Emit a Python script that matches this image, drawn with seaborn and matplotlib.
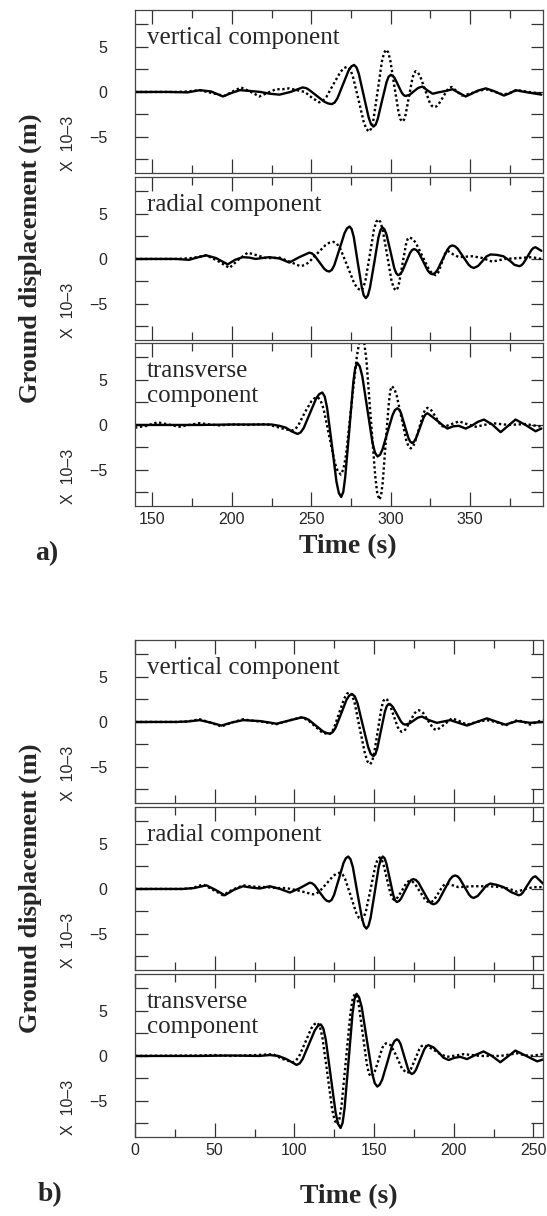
import matplotlib
matplotlib.use("Agg")
import matplotlib.pyplot as plt
import matplotlib.ticker as mticker
import pandas as pd
import seaborn as sns

# (time in s, ground displacement in units of 1e-3 m)

a_vertical_solid = [
    (139, 0), (160, 0), (172, -0.05), (180, 0.2), (187, 0.05), (194.3, -0.5), (200, -0.1), (205, 0.2),
    (212, 0.1), (218, 0), (224, -0.2), (230, -0.3), (237, 0), (244.5, 0.5), (246.8, 0.43), (248.7, 0.23),
    (253.5, -0.43), (258.2, -1.08), (260.7, -1.28), (263, -1.35), (264.75, -1.18), (266.5, -0.71), (270, 0.83),
    (273.5, 2.36), (275.25, 2.83), (277, 3.0), (278.5, 2.74), (280, 2.0), (283.1, -0.43), (286.2, -2.85),
    (287.7, -3.59), (289.2, -3.85), (290.6, -3.63), (291.9, -3.0), (294.6, -0.98), (297.4, 1.06), (298.7, 1.68),
    (300.1, 1.9), (301.3, 1.81), (302.5, 1.56), (304.8, 0.73), (307.1, -0.1), (308.3, -0.36), (309.5, -0.45),
    (312.1, -0.3), (314.7, 0.08), (317.4, 0.45), (320, 0.6), (323, 0.2), (326.5, -0.2), (330, -0.05),
    (334.5, 0.1), (339, 0.3), (343, -0.1), (347.3, -0.5), (351, -0.2), (355, 0.15), (360, 0.4), (365, 0.1),
    (371.4, -0.4), (375, -0.15), (378.8, 0.2), (383, 0.05), (388, -0.1), (395, -0.3)]

a_vertical_dotted = [
    (139, 0), (165, 0), (172, 0.05), (179.6, 0.2), (187, -0.1), (195.3, -0.45), (200.5, 0.05), (205.8, 0.5),
    (211.5, 0.05), (217.3, -0.5), (222.5, -0.1), (227.8, 0.3), (232, 0.3), (236, 0.4), (241, 0.2), (246, 0),
    (250.5, -0.65), (255, -1.15), (257.2, -1.0), (259.5, -0.57), (263.9, 0.83), (268.4, 2.22), (270.6, 2.65),
    (272.8, 2.8), (274.5, 2.53), (276.2, 1.75), (279.7, -0.8), (283.1, -3.35), (284.8, -4.13), (286.5, -4.4),
    (287.8, -4.05), (289.2, -3.07), (291.9, 0.15), (294.5, 3.37), (295.9, 4.35), (297.2, 4.7), (298.5, 4.4),
    (299.8, 3.53), (302.3, 0.7), (304.9, -2.13), (306.1, -3.0), (307.4, -3.3), (308.45, -3.09), (309.5, -2.48),
    (311.6, -0.5), (313.7, 1.48), (314.75, 2.09), (315.8, 2.3), (317.25, 2.15), (318.7, 1.71), (321.6, 0.3),
    (324.5, -1.11), (325.95, -1.55), (327.4, -1.7), (328.8, -1.61), (330.2, -1.37), (333, -0.58),
    (335.7, 0.22), (337.1, 0.46), (338.5, 0.55), (341.7, 0.08), (345, -0.4), (350, -0.2), (355, 0.1),
    (360, 0.3), (365, 0.05), (371, -0.3), (375, -0.1), (380, 0.2), (387, 0), (395, -0.2)]

a_radial_solid = [
    (139, 0), (165, 0), (173, -0.1), (178, 0.15), (183.8, 0.4), (190, 0.1), (197.4, -0.6), (202, -0.1),
    (206.8, 0.2), (211, 0.15), (215, 0.0), (219, 0.1), (223.6, 0.2), (230, 0.05), (236.2, -0.4), (242.5, 0.2),
    (248.8, 0.7), (250.4, 0.62), (252, 0.39), (255.1, -0.35), (258.2, -1.09), (259.8, -1.32), (261.4, -1.4),
    (263, -1.21), (264.6, -0.67), (267.8, 1.1), (271, 2.87), (272.6, 3.41), (274.2, 3.6), (275.5, 3.3),
    (276.8, 2.44), (279.3, -0.38), (281.9, -3.19), (283.1, -4.05), (284.4, -4.35), (285.7, -4.05), (287, -3.2),
    (289.7, -0.43), (292.3, 2.35), (293.6, 3.2), (294.9, 3.5), (296.1, 3.3), (297.4, 2.72), (299.9, 0.85),
    (302.3, -1.02), (303.6, -1.6), (304.8, -1.8), (306.05, -1.69), (307.3, -1.38), (309.8, -0.35),
    (312.3, 0.68), (313.55, 0.99), (314.8, 1.1), (316.2, 0.99), (317.7, 0.69), (320.6, -0.3), (323.4, -1.29),
    (324.9, -1.59), (326.3, -1.7), (327.9, -1.58), (329.5, -1.23), (332.6, -0.1), (335.8, 1.03), (337.3, 1.38),
    (338.9, 1.5), (340.6, 1.4), (342.3, 1.13), (345.7, 0.25), (349.1, -0.63), (350.8, -0.9), (352.5, -1.0),
    (355.1, -0.78), (357.8, -0.25), (360.4, 0.28), (363, 0.5), (367, 0.45), (371, 0.3), (375.5, -0.25),
    (378, -0.65), (381, -0.8), (382.3, -0.72), (383.6, -0.49), (386.2, 0.25), (388.7, 0.99), (390, 1.22),
    (391.3, 1.3), (395, 0.9)]

a_radial_dotted = [
    (139, 0), (165, 0), (175, 0.1), (184, 0.4), (191, -0.2), (198.5, -1.0), (204, -0.1), (210, 0.7),
    (216, 0.4), (221.5, 0.1), (226, 0.1), (230, 0.15), (236.5, -0.3), (243, -0.8), (245.6, -0.7),
    (248.3, -0.4), (253.5, 0.55), (258.8, 1.5), (261.4, 1.8), (264, 1.9), (266.2, 1.69), (268.4, 1.11),
    (272.8, -0.8), (277.1, -2.71), (279.3, -3.29), (281.5, -3.5), (282.8, -3.2), (284.2, -2.34), (286.9, 0.45),
    (289.5, 3.24), (290.9, 4.1), (292.2, 4.4), (293.6, 4.1), (295, 3.24), (297.8, 0.45), (300.5, -2.34),
    (301.9, -3.2), (303.3, -3.5), (304.35, -3.28), (305.4, -2.64), (307.5, -0.55), (309.6, 1.54),
    (310.65, 2.18), (311.7, 2.4), (313.8, 2.24), (315.9, 1.78), (320, 0.3), (324.2, -1.18), (326.3, -1.64),
    (328.4, -1.8), (329.35, -1.7), (330.3, -1.4), (332.2, -0.45), (334.1, 0.5), (335.05, 0.8), (336, 0.9),
    (339.5, 0.5), (343, 0.2), (347, 0.25), (351.5, 0.3), (358, 0.1), (364, -0.3), (372, 0), (381, 0.1),
    (389, 0.2), (395, 0)]

a_transverse_solid = [
    (139, 0), (180, 0), (200, 0.05), (225, 0.05), (230, -0.1), (234, -0.3), (237.5, -0.7), (241.4, -1.0),
    (243.35, -0.83), (245.3, -0.33), (249.2, 1.3), (253.1, 2.93), (255.05, 3.43), (257, 3.6), (258.5, 3.16),
    (260, 1.9), (263, -2.2), (265.9, -6.3), (267.4, -7.56), (268.9, -8.0), (270.2, -7.43), (271.4, -5.82),
    (274, -0.55), (276.5, 4.72), (277.7, 6.33), (279, 6.9), (280.6, 6.5), (282.2, 5.38), (285.4, 1.7),
    (288.6, -1.98), (290.2, -3.1), (291.8, -3.5), (293.4, -3.3), (294.9, -2.72), (298, -0.83), (301.2, 1.07),
    (302.7, 1.65), (304.3, 1.85), (305.45, 1.7), (306.6, 1.29), (308.9, -0.08), (311.2, -1.44),
    (312.35, -1.85), (313.5, -2.0), (314.7, -1.87), (315.9, -1.52), (318.4, -0.35), (320.8, 0.82),
    (322, 1.17), (323.2, 1.3), (326.3, 0.9), (329.5, 0.45), (332.6, 0.0), (335.8, -0.4), (339.5, -0.15),
    (343, -0.1), (347.3, -0.4), (351, -0.1), (355, 0.35), (358.8, 0.6), (364, 0.05), (369.3, -0.8),
    (374, -0.1), (378.7, 0.6), (385, 0.0), (391.3, -0.7), (395, -0.4)]

a_transverse_dotted = [
    (139, -0.3), (146, -0.1), (153.4, 0.3), (160, 0.05), (167, -0.2), (173, 0), (179.6, 0.2), (186, 0.05),
    (192, -0.05), (200, 0.05), (210, 0), (221.5, 0.1), (228, -0.2), (234, -0.5), (238, -0.6), (240, -0.46),
    (242, 0.0), (246, 1.4), (250, 2.6), (252, 2.96), (254, 3.1), (255.8, 2.77), (257.7, 1.84), (261.3, -1.2),
    (264.9, -4.24), (266.8, -5.17), (268.6, -5.5), (270.3, -4.92), (272, -3.26), (275.3, 2.15), (278.7, 7.56),
    (280.3, 9.22), (282, 9.8), (283.4, 9.11), (284.8, 7.15), (287.5, 0.75), (290.3, -5.65), (291.6, -7.61),
    (293, -8.3), (294, -7.82), (295, -6.45), (296.9, -2.0), (298.9, 2.45), (299.8, 3.82), (300.8, 4.3),
    (302.3, 4.04), (303.8, 3.29), (306.8, 0.85), (309.7, -1.59), (311.2, -2.34), (312.7, -2.6), (314, -2.43),
    (315.3, -1.94), (318, -0.35), (320.6, 1.24), (321.9, 1.73), (323.2, 1.9), (324.5, 1.82), (325.8, 1.59),
    (328.5, 0.85), (331.1, 0.11), (332.4, -0.12), (333.7, -0.2), (338.5, 0.1), (343.1, 0.4), (348, 0.1),
    (353.6, -0.2), (359, 0), (364, 0.2), (369, 0.1), (374.6, 0), (385, 0.1), (395, -0.2)]

b_vertical_solid = [
    (0, 0), (26, 0), (33, 0.05), (40.6, 0.2), (47, -0.05), (54.2, -0.4), (61, -0.05), (67.8, 0.2), (73, 0.15),
    (78.3, 0.1), (84, -0.05), (88.8, -0.2), (96.5, 0.15), (104.5, 0.5), (106.7, 0.43), (109, 0.24),
    (113.4, -0.4), (117.9, -1.04), (120.1, -1.23), (122.3, -1.3), (124.05, -1.13), (125.8, -0.66), (129.3, 0.9),
    (132.7, 2.46), (134.45, 2.93), (136.2, 3.1), (137.9, 2.84), (139.6, 2.09), (142.9, -0.35), (146.3, -2.79),
    (147.9, -3.54), (149.6, -3.8), (150.8, -3.58), (152, -2.95), (154.4, -0.9), (156.8, 1.15), (158, 1.78),
    (159.2, 2.0), (160.5, 1.91), (161.8, 1.66), (164.4, 0.85), (166.9, 0.04), (168.2, -0.21), (169.5, -0.3),
    (172.1, -0.17), (174.8, 0.15), (177.4, 0.47), (180, 0.6), (184.5, 0.2), (189.4, -0.1), (193.5, 0.05),
    (197.8, 0.2), (203, -0.1), (208.3, -0.4), (214.5, 0.0), (220.8, 0.4), (226.5, 0.05), (232.4, -0.3),
    (236, -0.1), (239.7, 0.1), (244, 0.0), (248, -0.1), (256, 0)]

b_vertical_dotted = [
    (0, 0), (26, 0), (33, 0.05), (40.6, 0.3), (47, -0.05), (54.2, -0.5), (61, -0.05), (67.8, 0.3), (73, 0.15),
    (78.3, 0.05), (84, -0.1), (88.8, -0.25), (96.5, 0.15), (104, 0.5), (108.4, 0.22), (112.8, -0.45),
    (117.1, -1.12), (121.5, -1.4), (123.1, -1.22), (124.8, -0.71), (128, 0.95), (131.3, 2.61), (132.9, 3.12),
    (134.5, 3.3), (136.1, 3.0), (137.8, 2.13), (141, -0.7), (144.3, -3.53), (145.9, -4.4), (147.5, -4.7),
    (148.7, -4.42), (149.9, -3.63), (152.3, -1.05), (154.6, 1.53), (155.8, 2.32), (157, 2.6), (158.3, 2.46),
    (159.6, 2.06), (162.2, 0.75), (164.8, -0.56), (166.1, -0.96), (167.4, -1.1), (168.7, -1.01),
    (170.1, -0.75), (172.7, 0.1), (175.4, 0.95), (176.7, 1.21), (178, 1.3), (179.4, 1.22), (180.9, 0.98),
    (183.7, 0.2), (186.6, -0.58), (188, -0.82), (189.4, -0.9), (194, -0.3), (198.8, 0.4), (203.5, 0.1),
    (208.3, -0.3), (214.5, 0), (220.8, 0.2), (226.5, 0), (232.4, -0.4), (236, -0.1), (239.7, 0.2), (244, 0),
    (248, -0.3), (252, 0), (256, 0.2)]

b_radial_solid = [
    (0, 0), (30, 0), (37, 0.1), (44.8, 0.4), (50.5, -0.1), (56.3, -0.7), (62, -0.1), (67.8, 0.3), (73, 0.15),
    (78.3, 0.05), (84.6, 0.3), (91, 0.0), (97.2, -0.4), (103.5, 0.1), (109.7, 0.7), (111.2, 0.62),
    (112.8, 0.39), (115.8, -0.35), (118.9, -1.09), (120.4, -1.32), (121.9, -1.4), (123.4, -1.21),
    (124.9, -0.67), (127.9, 1.1), (130.8, 2.87), (132.3, 3.41), (133.8, 3.6), (135.2, 3.3), (136.7, 2.43),
    (139.5, -0.4), (142.4, -3.23), (143.8, -4.1), (145.2, -4.4), (146.5, -4.1), (147.8, -3.23), (150.4, -0.4),
    (152.9, 2.43), (154.2, 3.3), (155.5, 3.6), (156.6, 3.41), (157.7, 2.86), (159.9, 1.08), (162.1, -0.71),
    (163.2, -1.26), (164.3, -1.45), (165.6, -1.35), (166.9, -1.08), (169.5, -0.18), (172.1, 0.73),
    (173.4, 1.0), (174.7, 1.1), (176.3, 0.99), (177.9, 0.69), (181, -0.3), (184.2, -1.29), (185.7, -1.59),
    (187.3, -1.7), (189, -1.58), (190.7, -1.23), (194.1, -0.1), (197.5, 1.03), (199.2, 1.38), (200.9, 1.5),
    (202.35, 1.4), (203.8, 1.13), (206.7, 0.25), (209.6, -0.63), (211.05, -0.9), (212.5, -1.0),
    (215.1, -0.77), (217.8, -0.2), (220.4, 0.37), (223, 0.6), (227, 0.45), (231.3, 0.2), (236, -0.35),
    (240.8, -0.7), (242.1, -0.62), (243.4, -0.39), (246, 0.35), (248.7, 1.09), (250, 1.32), (251.3, 1.4),
    (256, 0.6)]

b_radial_dotted = [
    (0, 0), (30, 0), (36, 0.1), (42.7, 0.5), (49, -0.1), (55.2, -0.7), (61, -0.1), (67.8, 0.4), (75, 0.25),
    (82.5, 0.2), (89, 0.1), (95, 0.1), (103, -0.2), (111.7, -0.6), (113.8, -0.51), (115.9, -0.25),
    (120.2, 0.6), (124.4, 1.45), (126.5, 1.71), (128.6, 1.8), (130.3, 1.6), (132, 1.04), (135.4, -0.8),
    (138.8, -2.64), (140.5, -3.2), (142.2, -3.4), (143.6, -3.14), (145, -2.39), (147.9, 0.05), (150.7, 2.49),
    (152.1, 3.24), (153.5, 3.5), (154.6, 3.32), (155.8, 2.81), (158, 1.15), (160.3, -0.51), (161.4, -1.02),
    (162.5, -1.2), (163.8, -1.12), (165, -0.89), (167.6, -0.15), (170.1, 0.59), (171.3, 0.82), (172.6, 0.9),
    (174.15, 0.81), (175.7, 0.55), (178.8, -0.3), (181.9, -1.15), (183.45, -1.41), (185, -1.5),
    (186.3, -1.42), (187.7, -1.19), (190.4, -0.45), (193, 0.29), (194.4, 0.52), (195.7, 0.6), (203, 0.2),
    (212, 0.3), (222, 0.3), (230, 0.2), (235, 0.0), (239.7, -0.3), (245, 0.0), (250, 0.2), (256, 0.2)]

b_transverse_solid = [
    (0, 0), (40, 0), (60, 0.05), (78, 0), (84.6, 0.1), (90, 0), (95, -0.35), (101.4, -1.0), (103.3, -0.83),
    (105.2, -0.34), (109, 1.25), (112.8, 2.84), (114.7, 3.33), (116.6, 3.5), (118.15, 3.06), (119.7, 1.82),
    (122.8, -2.25), (125.9, -6.32), (127.45, -7.56), (129, -8.0), (130.25, -7.43), (131.5, -5.82),
    (134, -0.55), (136.5, 4.72), (137.75, 6.33), (139, 6.9), (140.6, 6.51), (142.3, 5.39), (145.5, 1.75),
    (148.8, -1.89), (150.4, -3.01), (152, -3.4), (153.5, -3.2), (155.1, -2.63), (158.2, -0.78), (161.2, 1.08),
    (162.8, 1.65), (164.3, 1.85), (165.5, 1.7), (166.7, 1.29), (169, -0.08), (171.3, -1.44), (172.5, -1.85),
    (173.7, -2.0), (175, -1.88), (176.3, -1.53), (178.9, -0.4), (181.5, 0.73), (182.8, 1.08), (184.1, 1.2),
    (187.3, 0.95), (190.5, 0.4), (193.6, -0.2), (196.8, -0.45), (200.5, -0.2), (204.1, -0.1), (208.3, -0.35),
    (213.5, 0.1), (218.7, 0.5), (224, 0.0), (229.2, -0.7), (234, -0.05), (238.7, 0.6), (245.5, 0.0),
    (252.3, -0.6), (256, -0.4)]

b_transverse_dotted = [
    (0, 0), (40, 0.05), (50, 0.1), (60, 0), (76, 0.1), (86.7, 0.2), (92, -0.3), (99, -0.7), (100.9, -0.53),
    (102.9, -0.06), (106.8, 1.5), (110.6, 3.06), (112.6, 3.53), (114.5, 3.7), (116, 3.27), (117.6, 2.04),
    (120.7, -1.95), (123.7, -5.94), (125.3, -7.17), (126.8, -7.6), (128.2, -7.05), (129.6, -5.48),
    (132.4, -0.35), (135.2, 4.78), (136.6, 6.35), (138, 6.9), (139.25, 6.55), (140.5, 5.55), (143, 2.3),
    (145.5, -0.95), (146.75, -1.95), (148, -2.3), (149.2, -2.16), (150.4, -1.76), (152.8, -0.45),
    (155.1, 0.86), (156.3, 1.26), (157.5, 1.4), (160.5, 1.2), (164, 0.0), (167.5, -1.4), (170.5, -1.9),
    (171.8, -1.78), (173.1, -1.45), (175.8, -0.35), (178.4, 0.75), (179.7, 1.08), (181, 1.2), (184, 1.0),
    (187.3, 0.7), (191.5, 0.2), (195.7, -0.1), (201, 0.05), (206.2, 0.2), (211.5, 0.1), (216.7, 0), (223, 0),
    (229.2, 0), (234.5, 0.15), (239.7, 0.3), (244, 0.1), (248, 0), (256, 0.2)]

component_labels = ['vertical component', 'radial component', 'transverse\ncomponent']
a_xlim = (139, 396)
b_xlim = (0, 256)

W, H = 547, 1216
SERIF = 'Liberation Serif'
SANS = ['Liberation Sans', 'DejaVu Sans']


def to_frame(solid, dotted):
    df_solid = pd.DataFrame(solid, columns=['time', 'disp']).assign(trace='solid')
    df_dotted = pd.DataFrame(dotted, columns=['time', 'disp']).assign(trace='dotted')
    return pd.concat([df_solid, df_dotted], ignore_index=True)


def draw_panel(fig, top_px, solid, dotted, label, xlim, show_xlabels):
    ax = fig.add_axes([135 / W, 1 - (top_px + 163) / H, 408 / W, 163 / H])
    df = to_frame(solid, dotted)
    sns.lineplot(data=df, x='time', y='disp', style='trace',
                 dashes={'solid': '', 'dotted': (1, 1.1)},
                 color='black', linewidth=1.7, estimator=None,
                 legend=False, ax=ax, solid_joinstyle='round')
    ax.set_xlim(*xlim)
    ax.set_ylim(-9, 9.1)
    ax.set_xlabel('')
    ax.set_ylabel('')

    ax.xaxis.set_major_locator(mticker.MultipleLocator(50))
    ax.xaxis.set_minor_locator(mticker.MultipleLocator(25))
    ax.yaxis.set_major_locator(mticker.FixedLocator([-5, 0, 5]))
    ax.yaxis.set_minor_locator(mticker.FixedLocator([-7.5, -2.5, 2.5, 7.5]))
    ax.tick_params(axis='both', which='both', direction='in', top=True, right=True,
                   color='#333333', width=0.9, labelsize=11.5)
    ax.tick_params(axis='x', which='major', length=10, pad=4, labelbottom=show_xlabels)
    ax.tick_params(axis='x', which='minor', length=6)
    ax.tick_params(axis='y', which='both', length=9, pad=20)
    for spine in ax.spines.values():
        spine.set_color('#444444')
        spine.set_linewidth(0.9)
        spine.set_visible(True)

    lines = label.split('\n')
    ax.text(0.029, 1 - 34 / 163, lines[0], transform=ax.transAxes, family=SERIF,
            fontsize=18, va='baseline', ha='left')
    if len(lines) > 1:
        ax.text(0.029, 1 - 59 / 163, lines[1], transform=ax.transAxes, family=SERIF,
                fontsize=18, va='baseline', ha='left')
    ax.text(-0.164, 0.184, 'X  10\u20133', transform=ax.transAxes, rotation=90,
            fontsize=11.5, ha='center', va='center')
    return ax


def draw_group(fig, tops, series, xlim, tag, tag_xy, time_xy, ylabel_y):
    for i, (top, (solid, dotted)) in enumerate(zip(tops, series)):
        draw_panel(fig, top, solid, dotted, component_labels[i], xlim, i == len(tops) - 1)
    fig.text(30 / W, 1 - ylabel_y / H, 'Ground displacement (m)', rotation=90, family=SERIF,
             fontweight='bold', fontsize=19, ha='center', va='center')
    fig.text(time_xy[0] / W, 1 - time_xy[1] / H, 'Time (s)', family=SERIF,
             fontweight='bold', fontsize=20, ha='center', va='center')
    fig.text(tag_xy[0] / W, 1 - tag_xy[1] / H, tag, family=SERIF,
             fontweight='bold', fontsize=20, ha='center', va='center')


def main():
    sns.set_style('ticks')
    plt.rcParams['font.family'] = SANS
    fig = plt.figure(figsize=(W / 100, H / 100), dpi=100)

    draw_group(fig, [10, 177, 343],
               [(a_vertical_solid, a_vertical_dotted),
                (a_radial_solid, a_radial_dotted),
                (a_transverse_solid, a_transverse_dotted)],
               a_xlim, 'a)', (47, 554), (348, 547), 258)

    draw_group(fig, [640, 807, 974],
               [(b_vertical_solid, b_vertical_dotted),
                (b_radial_solid, b_radial_dotted),
                (b_transverse_solid, b_transverse_dotted)],
               b_xlim, 'b)', (50, 1195), (349, 1197), 888)

    fig.savefig('out.png', dpi=100)
    plt.close(fig)


if __name__ == "__main__":
    main()
